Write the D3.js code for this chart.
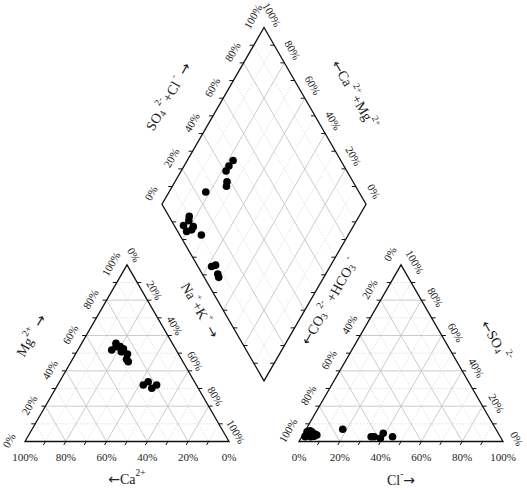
<!DOCTYPE html>
<html>
<head>
<meta charset="utf-8">
<script src="https://cdn.jsdelivr.net/npm/d3@7"></script>
<style>
body { margin: 0; background: #fff; }
svg text { font-family: "Liberation Serif", "Times New Roman", serif; fill: #222; }
</style>
</head>
<body>
<div id="vis"></div>
<script>
// sample compositions, % of meq
const ca   = [26.5, 27, 25.5, 25, 27, 28, 27.6, 31.6, 28.5, 26.5, 26.5, 27.4, 26.8, 22.7, 26, 22.8, 19.5]
const mg   = [51, 51, 52.5, 49.5, 46.5, 54, 55.6, 51.8, 53.7, 51.8, 53.7, 50.8, 45.2, 33.8, 32, 30.1, 32]
const naK  = [22.5, 22, 22, 25.5, 26.5, 18, 16.8, 16.6, 17.8, 21.7, 19.8, 21.8, 28, 43.5, 42, 47.1, 48.5]
const hco3 = [52.8, 56.4, 59.2, 61.8, 63.3, 75.1, 90.1, 95.5, 91.5, 91, 95.6, 92.7, 89.4, 91, 93.3, 92.4, 92.9]
const so4  = [2.7, 4.6, 1.8, 2.7, 2.7, 6.9, 4.2, 3, 6.1, 3, 2.7, 3.5, 3.7, 5.5, 5.5, 3.1, 2.7]
const cl   = [44.5, 39, 39, 35.5, 34, 18, 5.7, 1.5, 2.4, 6, 1.7, 3.8, 6.9, 3.5, 1.2, 4.5, 4.4]

const gridSteps = [10, 20, 30, 40, 50, 60, 70, 80, 90]
const labelSteps = [0, 20, 40, 60, 80, 100]

const width = 527, height = 490
const side = 204, x0 = 25, base = 441.5, gap = 70
const sin60 = Math.sqrt(3) / 2

const len = d3.scaleLinear().domain([0, 100]).range([0, side])
const frac = d3.scaleLinear().domain([0, 100]).range([0, 1])

const lerp = (a, b, t) => [a[0] + (b[0] - a[0]) * t, a[1] + (b[1] - a[1]) * t]

// corners
const x1 = x0 + side + gap
const LT = [[x0, base], [x0 + side, base], [x0 + side / 2, base - side * sin60]]
const RT = [[x1, base], [x1 + side, base], [x1 + side / 2, base - side * sin60]]
const B = [x0 + side + gap / 2, base - gap / 2 * Math.sqrt(3)]
const L = [B[0] - side / 2, B[1] - side * sin60]
const R = [B[0] + side / 2, B[1] - side * sin60]
const T = [B[0], B[1] - 2 * side * sin60]

const idx = d3.range(ca.length)
const cation = i => [x0 + len(naK[i]) + len(mg[i]) / 2, base - len(mg[i]) * sin60]
const anion = i => [x1 + len(cl[i]) + len(so4[i]) / 2, base - len(so4[i]) * sin60]
const diamond = i => {
    let u = len(so4[i] + cl[i]), v = len(ca[i] + mg[i])
    return [B[0] + (u - v) / 2, B[1] - (u + v) * sin60]
}

let svg = d3.select('#vis').append('svg')
    .attr('width', width)
    .attr('height', height)

// grid lines
let gridLines = []
gridSteps.forEach(k => {
    let t = frac(k), major = k % 20 === 0
    ;[LT, RT].forEach(([p0, p1, p2]) => {
        gridLines.push({a: lerp(p0, p2, t), b: lerp(p1, p2, t), major})
        gridLines.push({a: lerp(p0, p1, t), b: lerp(p0, p2, t), major})
        gridLines.push({a: lerp(p0, p1, t), b: lerp(p1, p2, 1 - t), major})
    })
    gridLines.push({a: lerp(B, R, t), b: lerp(L, T, t), major})
    gridLines.push({a: lerp(B, L, t), b: lerp(R, T, t), major})
})

svg.append('g').selectAll('line')
    .data(gridLines)
    .join('line')
        .attr('x1', d => d.a[0]).attr('y1', d => d.a[1])
        .attr('x2', d => d.b[0]).attr('y2', d => d.b[1])
        .attr('stroke', d => d.major ? '#c6c6c6' : '#dadada')
        .attr('stroke-width', d => d.major ? 0.9 : 0.8)
        .attr('stroke-dasharray', d => d.major ? null : '1.5,1.5')

// outlines
svg.append('g').selectAll('polygon')
    .data([LT, RT, [B, L, T, R]])
    .join('polygon')
        .attr('points', d => d.map(p => p.join(',')).join(' '))
        .attr('fill', 'none')
        .attr('stroke', '#111')
        .attr('stroke-width', 1.3)

// axes: ticks + percent labels
const axes = [
    {a: LT[0], b: LT[1], dir: [-2, 3.5], val: k => 100 - k, off: [0, 15.5], rot: 0},
    {a: LT[0], b: LT[2], dir: [-4, 0], val: k => k, off: [-16, -1], rot: -60},
    {a: LT[2], b: LT[1], dir: [4, 0], val: k => k, off: [7, -10], rot: 60},
    {a: RT[0], b: RT[1], dir: [-2, 3.5], val: k => k, off: [0, 15.5], rot: 0},
    {a: RT[0], b: RT[2], dir: [-4, 0], val: k => 100 - k, off: [-11, -11], rot: -60},
    {a: RT[1], b: RT[2], dir: [4, 0], val: k => k, off: [14, -3], rot: 60},
    {a: L, b: T, dir: [-4, 0], val: k => k, off: [-11, -11], rot: -60},
    {a: T, b: R, dir: [-4, 0], val: k => 100 - k, off: [8, -13], rot: 60},
    {a: L, b: B, dir: [4, 0], val: null},
    {a: R, b: B, dir: [-4, 0], val: null}
]

let ticks = [], tickLabels = []
axes.forEach(ax => {
    gridSteps.forEach(k => {
        let p = lerp(ax.a, ax.b, frac(k))
        ticks.push([p, [p[0] + ax.dir[0], p[1] + ax.dir[1]]])
    })
    if (ax.val) labelSteps.forEach(k => {
        let p = lerp(ax.a, ax.b, frac(k))
        tickLabels.push({x: p[0] + ax.off[0], y: p[1] + ax.off[1], rot: ax.rot, text: ax.val(k) + '%'})
    })
})

svg.append('g').selectAll('line')
    .data(ticks)
    .join('line')
        .attr('x1', d => d[0][0]).attr('y1', d => d[0][1])
        .attr('x2', d => d[1][0]).attr('y2', d => d[1][1])
        .attr('stroke', '#111')
        .attr('stroke-width', 1)

svg.append('g').selectAll('text')
    .data(tickLabels)
    .join('text')
        .attr('transform', d => `translate(${d.x},${d.y}) rotate(${d.rot})`)
        .attr('text-anchor', 'middle')
        .attr('dominant-baseline', 'central')
        .attr('font-size', '11px')
        .attr('fill', '#333')
        .text(d => d.text)

// axis titles with super/subscripts, arrows drawn wider
function richText(x, y, rot, parts, size) {
    let t = svg.append('text')
        .attr('transform', `translate(${x},${y}) rotate(${rot})`)
        .attr('text-anchor', 'middle')
        .attr('dominant-baseline', 'central')
        .attr('font-size', size + 'px')
    let cur = 0
    parts.forEach(p => {
        let target = p[1] === 'sup' ? -size * 0.42 : p[1] === 'sub' ? size * 0.28 : 0
        let ts = t.append('tspan')
            .attr('dy', target - cur)
            .attr('font-size', (p[1] && p[1] !== 'arrow' ? size * 0.68 : size) + 'px')
            .text(p[0])
        if (p[1] === 'arrow') ts.attr('font-family', 'DejaVu Sans')
        cur = target
    })
}

const at = (a, b, t, dx, dy) => { let p = lerp(a, b, t); return [p[0] + dx, p[1] + dy] }

let pos
pos = at(LT[0], LT[1], 0.5, 0, 37)
richText(pos[0], pos[1], 0, [['←', 'arrow'], ['Ca'], ['2+', 'sup']], 14)
pos = at(LT[0], LT[2], 0.6, -55, 0)
richText(pos[0], pos[1], -60, [['Mg'], ['2+', 'sup'], [' →', 'arrow']], 14)
pos = at(L, B, 0.6, -23, 0)
richText(pos[0], pos[1], 60, [['Na'], ['+', 'sup'], ['+K'], ['+', 'sup'], [' →', 'arrow']], 14)
pos = at(RT[0], RT[1], 0.5, 0, 38)
richText(pos[0], pos[1], 0, [['Cl'], ['-', 'sup'], ['→', 'arrow']], 14)
pos = at(RT[2], RT[1], 0.43, 51, 0)
richText(pos[0], pos[1], 60, [['←', 'arrow'], ['SO'], ['4', 'sub'], [' 2-', 'sup']], 14)
pos = at(R, B, 0.55, 19, 0)
richText(pos[0], pos[1], -60, [['←', 'arrow'], ['CO'], ['3', 'sub'], [' 2-', 'sup'], [' +HCO'], ['3', 'sub'], [' -', 'sup']], 14)
pos = at(L, T, 0.61, -56, 0)
richText(pos[0], pos[1], -60, [['SO'], ['4', 'sub'], [' 2-', 'sup'], ['+Cl'], [' -', 'sup'], [' →', 'arrow']], 14)
pos = at(T, R, 0.38, 52, 0)
richText(pos[0], pos[1], 60, [['←', 'arrow'], ['Ca'], [' 2+', 'sup'], ['+Mg'], ['2+', 'sup']], 14)

// samples
const pts = idx.map(cation).concat(idx.map(anion), idx.map(diamond))
svg.append('g').selectAll('circle')
    .data(pts)
    .join('circle')
        .attr('cx', d => d[0])
        .attr('cy', d => d[1])
        .attr('r', 3.8)
        .attr('fill', '#000')
</script>
</body>
</html>
